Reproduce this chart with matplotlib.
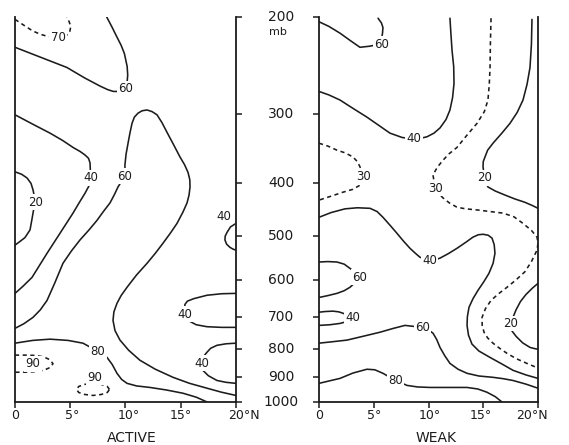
import matplotlib
matplotlib.use("Agg")
import matplotlib.pyplot as plt
from matplotlib.ticker import NullLocator, NullFormatter
from matplotlib.transforms import blended_transform_factory

# ---------------- data (latitude deg N, pressure mb) ----------------
lat_ticks = [0, 5, 10, 15, 20]
lat_labels = ["0", "5°", "10°", "15°", "20°N"]
p_ticks = [200, 300, 400, 500, 600, 700, 800, 900, 1000]
p_labels = ["200", "300", "400", "500", "600", "700", "800", "900", "1000"]
panel_names = ["ACTIVE", "WEAK"]

# ACTIVE panel contours (relative humidity %)
act70_lat = [0, 0.8, 1.6, 2.3, 3.0, 3.9, 4.6, 4.95, 5.05, 4.9, 4.7]
act70_p = [202, 207, 212, 215, 217, 218, 216.5, 213, 208, 204, 200]
act70_lab = (3.9, 218)

act60a_lat = [0, 2.4, 4.7, 6.3, 7.7, 8.4, 8.9, 9.6, 10.0, 10.15, 10.2, 10.15, 9.9, 9.6, 9.2, 8.8, 8.3]
act60a_p = [227, 237, 247, 258, 267, 271, 273, 273, 270, 262, 255, 246, 233, 225, 217, 209, 200]
act60a_lab = (10.0, 270)

act40a_lat = [0, 1.6, 3.17, 4.3, 5.25, 5.9, 6.33, 6.65, 6.79, 6.85, 6.7, 6.33, 5.8, 5.25, 4.07, 2.9, 1.54, 0.7, 0]
act40a_p = [301, 313, 325, 335, 345, 351, 356, 361, 368, 392, 405, 418, 435, 454, 494, 537, 594, 617, 635]
act40a_lab = (6.85, 392)

act20_lat = [0, 0.6, 1.09, 1.45, 1.63, 1.86, 1.7, 1.63, 1.5, 1.36, 0.9, 0.4, 0]
act20_p = [382, 386, 392, 401, 412, 434, 446, 454, 470, 487, 503, 512, 519]
act20_lab = (1.86, 434)

act60b_lat = [0, 0.8, 1.63, 2.3, 2.9, 3.6, 4.34, 5.1, 5.88, 6.7, 7.42, 8.0, 8.6, 9.0, 9.32, 9.95,
              9.95, 10.05, 10.23, 10.4, 10.59, 10.8, 11.13, 11.5, 11.95, 12.4, 12.85, 13.3,
              13.76, 14.35, 14.93, 15.35, 15.66, 15.82, 15.84, 15.75, 15.57, 15.2, 14.66,
              14.05, 13.39, 12.7, 11.95, 11.0, 10.14, 9.6, 9.23, 8.95, 8.87, 9.05, 9.5,
              10.3, 11.31, 12.7, 14.3, 15.8, 17.38, 18.7, 20]
act60b_p = [735, 721, 702, 680, 654, 608, 560, 532, 508, 487, 468, 451, 435, 420, 407, 389,
            371, 355, 339, 325, 312, 304, 299, 296, 295, 297, 301, 311,
            324, 341, 359, 371, 383, 395, 407, 421, 435, 452, 474,
            494, 515, 537, 560, 588, 619, 641, 662, 686, 711, 742, 772,
            806, 840, 872, 902, 925, 944, 960, 973]
act60b_lab = (9.95, 389)

act80_lat = [0, 1.6, 3.17, 4.8, 6.15, 7.5, 8.33, 8.8, 9.23, 9.65, 10.14, 11.0, 12.22, 13.7, 15.2, 16.4, 17.38]
act80_p = [782, 773, 769, 773, 782, 809, 830, 855, 887, 910, 925, 935, 941, 951, 964, 980, 1000]
act80_lab = (7.5, 809)

act90a_lat = [0, 0.9, 1.8, 2.6, 3.15, 3.44, 3.15, 2.6, 1.8, 0.9, 0]
act90a_p = [822, 822, 823, 828, 838, 852, 866, 876, 881, 883, 883]
act90a_lab = (1.63, 852)

act90b_lat = [8.55, 8.35, 7.81, 7.06, 6.31, 5.77, 5.57, 5.77, 6.31, 7.06, 7.81, 8.35, 8.55]
act90b_p = [949, 937, 929, 925, 929, 937, 949, 961, 969, 973, 969, 961, 949]
act90b_lab = (7.24, 902)

act40b_lat = [20, 19.5, 19.19, 19.02, 19.0, 19.15, 19.46, 19.75, 20]
act40b_p = [474, 481, 492, 500, 508, 517, 524, 528, 530]
act40b_lab = (18.87, 460)

act40c_lat = [20, 18.7, 17.38, 16.2, 15.6, 15.38, 15.3, 15.4, 15.66, 16.4, 17.38, 18.7, 20]
act40c_p = [635, 636, 640, 649, 656, 665, 693, 704, 711, 724, 730, 732, 732]
act40c_lab = (15.34, 693)

act40d_lat = [20, 19.1, 18.28, 17.7, 17.38, 16.95, 16.85, 16.9, 17.0, 17.5, 18.28, 19.1, 20]
act40d_p = [782, 784, 789, 799, 812, 832, 851, 866, 876, 896, 914, 921, 925]
act40d_lab = (16.88, 851)

# WEAK panel contours
wk60a_lat = [0, 0.9, 1.92, 2.9, 3.74, 4.6, 5.66, 5.7, 5.8, 5.84, 5.7, 5.39]
wk60a_p = [204, 208, 214, 221, 227, 226, 224, 220, 214, 209, 205, 201]
wk60a_lab = (5.7, 224)

wk40a_lat = [0, 0.9, 1.92, 3.1, 4.38, 5.5, 6.48, 7.6, 8.68, 9.3, 9.86, 10.5, 11.05, 11.6, 11.96,
             12.2, 12.33, 12.3, 12.15, 12.05, 11.96]
wk40a_p = [273, 277, 283, 293, 304, 315, 325, 331, 333, 332, 330, 325, 318, 307, 295,
           280, 264, 246, 230, 215, 201]
wk40a_lab = (8.68, 333)

wk30a_lat = [0, 0.8, 1.64, 2.4, 3.1, 3.5, 3.74, 4.06, 3.9, 3.74, 3.1, 2.19, 1.1, 0]
wk30a_p = [339, 343, 349, 353, 359, 366, 374, 390, 398, 404, 411, 416, 423, 430]
wk30a_lab = (4.06, 390)

wk30b_lat = [15.71, 15.65, 15.62, 15.55, 15.43, 15.1, 14.43, 13.5, 12.6, 11.9, 11.32, 10.8, 10.41,
             10.6, 10.9, 11.32, 11.9, 12.6, 13.4, 14.43, 15.6, 16.8, 17.8, 18.63, 19.4, 19.91,
             20, 19.91, 19.4, 18.81, 18.0, 17.17, 16.4, 15.71, 15.2, 14.89, 14.9, 15.07,
             15.4, 15.89, 16.5, 17.17, 18.0, 18.99, 19.6, 20]
wk30b_p = [201, 225, 247, 265, 283, 297, 312, 328, 345, 354, 364, 375, 387,
           409, 418, 426, 435, 443, 446, 448, 451, 454, 461, 474, 488, 502,
           515, 530, 556, 580, 600, 619, 636, 654, 677, 702, 725, 747,
           765, 782, 799, 816, 834, 851, 861, 869]
wk30b_lab = (10.64, 409)

wk20a_lat = [19.45, 19.4, 19.27, 19.0, 18.63, 18.1, 17.44, 16.7, 15.89, 15.4, 15.16, 15.0, 14.98,
             15.11, 15.25, 15.43, 16.1, 16.98, 17.9, 18.81, 19.5, 20]
wk20a_p = [202, 224, 247, 265, 283, 298, 312, 325, 339, 349, 359, 366, 374,
           392, 400, 407, 414, 421, 428, 434, 440, 445]
wk20a_lab = (15.11, 392)

wk40b_lat = [0, 1.1, 2.37, 3.5, 4.66, 5.3, 5.84, 6.5, 7.12, 7.7, 8.31, 8.8, 9.22, 10.09, 10.6, 11.05,
             11.8, 12.6, 13.4, 14.06, 14.55, 14.98, 15.45, 15.8, 16.0, 16.07, 15.9, 15.52,
             15.05, 14.52, 14.05, 13.7, 13.55, 13.52, 13.65, 13.97, 14.6, 15.62, 16.7,
             17.72, 18.9, 20]
wk40b_p = [462, 453, 446, 444, 445, 451, 462, 478, 494, 510, 526, 537, 546, 553, 552, 548,
           538, 526, 513, 502, 497, 496, 498, 504, 518, 537, 560, 584,
           605, 627, 650, 673, 700, 726, 756, 785, 808, 830, 853,
           876, 893, 906]
wk40b_lab = (10.09, 553)

wk20b_lat = [20, 19.5, 18.9, 18.4, 18.0, 17.49, 17.6, 18.0, 18.6, 19.27, 19.7, 20]
wk20b_p = [609, 621, 638, 657, 680, 720, 742, 760, 781, 796, 800, 802]
wk20b_lab = (17.49, 720)

wk60b_lat = [0, 0.8, 1.64, 2.3, 2.83, 3.3, 3.7, 3.3, 2.83, 2.3, 1.64, 0.8, 0]
wk60b_p = [557, 556, 557, 562, 572, 582, 594, 607, 619, 628, 635, 641, 646]
wk60b_lab = (3.7, 594)

wk40c_lat = [0, 0.6, 1.28, 1.8, 2.19, 3.06, 2.6, 1.92, 1.0, 0]
wk40c_p = [687, 685, 684, 686, 690, 702, 714, 720, 724, 726]
wk40c_lab = (3.06, 702)

wk60c_lat = [0, 1.3, 2.56, 4.0, 5.57, 6.8, 7.85, 9.45, 10.0, 10.41, 10.75, 11.05, 11.5, 11.96,
             12.7, 13.52, 14.6, 15.89, 16.8, 17.72, 18.9, 20]
wk60c_p = [782, 777, 772, 760, 747, 735, 726, 732, 740, 750, 770, 796, 825, 851,
           872, 887, 897, 902, 907, 914, 928, 944]
wk60c_lab = (9.45, 732)

wk80_lat = [0, 0.9, 1.92, 3.1, 4.38, 5.1, 5.84, 6.99, 8.04, 9.0, 10.14, 11.8, 13.52, 14.5, 15.34, 16.1, 16.71]
wk80_p = [925, 916, 906, 886, 872, 874, 887, 914, 933, 939, 941, 941, 941, 947, 960, 978, 1000]
wk80_lab = (6.99, 914)

# ---------------- figure ----------------
INK = "#1c1c1c"
SOLID = "-"
DASH = (0, (2.6, 2.2))

active = [
    (act70_lat, act70_p, "70", act70_lab, DASH),
    (act60a_lat, act60a_p, "60", act60a_lab, SOLID),
    (act40a_lat, act40a_p, "40", act40a_lab, SOLID),
    (act20_lat, act20_p, "20", act20_lab, SOLID),
    (act60b_lat, act60b_p, "60", act60b_lab, SOLID),
    (act80_lat, act80_p, "80", act80_lab, SOLID),
    (act90a_lat, act90a_p, "90", act90a_lab, DASH),
    (act90b_lat, act90b_p, "90", act90b_lab, DASH),
    (act40b_lat, act40b_p, "40", act40b_lab, SOLID),
    (act40c_lat, act40c_p, "40", act40c_lab, SOLID),
    (act40d_lat, act40d_p, "40", act40d_lab, SOLID),
]
weak = [
    (wk60a_lat, wk60a_p, "60", wk60a_lab, SOLID),
    (wk40a_lat, wk40a_p, "40", wk40a_lab, SOLID),
    (wk30a_lat, wk30a_p, "30", wk30a_lab, DASH),
    (wk30b_lat, wk30b_p, "30", wk30b_lab, DASH),
    (wk20a_lat, wk20a_p, "20", wk20a_lab, SOLID),
    (wk40b_lat, wk40b_p, "40", wk40b_lab, SOLID),
    (wk20b_lat, wk20b_p, "20", wk20b_lab, SOLID),
    (wk60b_lat, wk60b_p, "60", wk60b_lab, SOLID),
    (wk40c_lat, wk40c_p, "40", wk40c_lab, SOLID),
    (wk60c_lat, wk60c_p, "60", wk60c_lab, SOLID),
    (wk80_lat, wk80_p, "80", wk80_lab, SOLID),
]

W, H = 569, 445
fig = plt.figure(figsize=(W / 100, H / 100), dpi=100)
fig.patch.set_facecolor("white")
axL = fig.add_axes([15 / W, 43 / H, 221 / W, 385 / H])
axR = fig.add_axes([319 / W, 43 / H, 219 / W, 385 / H])

for ax, lines in ((axL, active), (axR, weak)):
    ax.set_yscale("log")
    ax.set_xlim(0, 20)
    ax.set_ylim(1000, 200)
    ax.yaxis.set_minor_locator(NullLocator())
    ax.yaxis.set_minor_formatter(NullFormatter())
    ax.spines["top"].set_visible(False)
    for s in ("left", "right", "bottom"):
        ax.spines[s].set_linewidth(1.3)
        ax.spines[s].set_color(INK)
    ax.set_xticks(lat_ticks)
    ax.set_xticklabels([])
    ax.set_yticks(p_ticks)
    ax.set_yticklabels([])
    ax.tick_params(axis="both", direction="out", length=4, width=1.1, color=INK)
    for lat, p, lev, (lx, ly), ls in lines:
        ax.plot(lat, p, color=INK, lw=1.15, ls=ls, solid_capstyle="round",
                solid_joinstyle="round")
        ax.text(lx, ly, lev, ha="center", va="center", fontsize=8.5, color=INK,
                bbox=dict(boxstyle="square,pad=0.12", fc="white", ec="none"))

axL.yaxis.tick_right()
axR.yaxis.tick_left()

# pressure labels between the panels
trans = blended_transform_factory(fig.transFigure, axL.transData)
for p, lab in zip(p_ticks, p_labels):
    fig.text(281 / W, p, lab, transform=trans, ha="center", va="center",
             fontsize=10, color=INK)
axL.annotate("mb", xy=(278 / W, p_ticks[0]), xycoords=trans, xytext=(0, -11),
             textcoords="offset points", ha="center", va="center",
             fontsize=8, color=INK)

# latitude labels
offL = [0, 2, 3, 0, 8]
offR = [0, 0, 1, -2, -6]
for ax, offs in ((axL, offL), (axR, offR)):
    tr = blended_transform_factory(ax.transData, ax.transAxes)
    for x, lab, dx in zip(lat_ticks, lat_labels, offs):
        ax.annotate(lab, xy=(x, 0), xycoords=tr, xytext=(dx * 0.72, -9.5),
                    textcoords="offset points", ha="center", va="center",
                    fontsize=9, color=INK, annotation_clip=False)

fig.text(132 / W, 7 / H, panel_names[0], ha="center", va="center", fontsize=10, color=INK)
fig.text(436 / W, 7 / H, panel_names[1], ha="center", va="center", fontsize=10, color=INK)

fig.savefig("out.png", dpi=100, facecolor="white")
